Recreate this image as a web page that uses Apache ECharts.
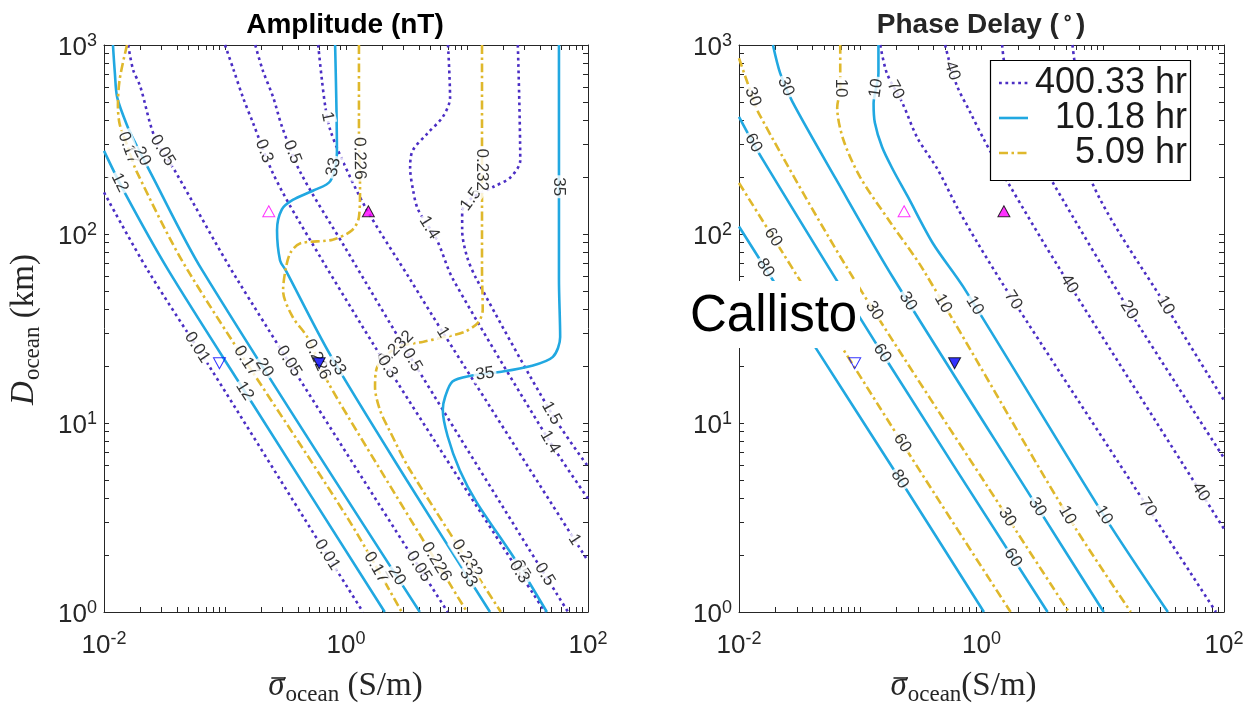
<!DOCTYPE html>
<html>
<head>
<meta charset="utf-8">
<script src="https://cdn.jsdelivr.net/npm/echarts@6/dist/echarts.min.js"></script>
<style>
  html, body { margin: 0; padding: 0; background: #fff; }
  #chart { width: 1257px; height: 706px; }
</style>
</head>
<body>
<div id="chart"></div>
<script>
// ---------------- data ----------------
const sigmaRange = [0.01, 100];          // ocean conductivity, S/m
const depthRange = [1, 1000];            // ocean thickness, km
const sigmaLabelTicks = [0.01, 1, 100];
const depthLabelTicks = [1, 10, 100, 1000];
const periods = ['400.33 hr', '10.18 hr', '5.09 hr'];

// Contour paths, points are [log10(sigma), log10(D)]
// Amplitude (nT), 400.33 hr
const amp400_001 = [[-2.0, 2.22], [-1.64, 1.81], [-1.12, 1.29], [-0.34, 0.49], [0.14, 0]];
const amp400_005 = [[-1.80, 3.0], [-1.76, 2.87], [-1.70, 2.78], [-1.58, 2.51], [-1.41, 2.33], [-0.90, 1.76], [0.84, 0]];
const amp400_03 = [[-1.0, 3.0], [-0.93, 2.87], [-0.85, 2.72], [-0.77, 2.59], [-0.61, 2.33], [-0.40, 2.08], [0.34, 1.30], [1.645, 0]];
const amp400_05 = [[-0.75, 3.0], [-0.69, 2.87], [-0.60, 2.72], [-0.53, 2.57], [-0.38, 2.33], [0.0, 1.92], [0.55, 1.33], [1.835, 0]];
const amp400_1 = [[-0.23, 3.0], [-0.20, 2.82], [-0.17, 2.67], [-0.13, 2.55], [-0.03, 2.39], [0.17, 2.13], [0.53, 1.76], [0.80, 1.48], [2.0, 0.27]];
const amp400_14 = [[0.843, 3.0], [0.86, 2.72], [0.80, 2.62], [0.67, 2.53], [0.55, 2.44], [0.53, 2.35], [0.555, 2.23], [0.595, 2.13], [0.75, 1.97], [0.885, 1.76], [1.686, 0.90], [2.0, 0.60]];
const amp400_15 = [[1.42, 3.0], [1.44, 2.39], [1.36, 2.30], [1.22, 2.25], [1.04, 2.19], [0.96, 2.12], [0.96, 2.02], [1.0, 1.88], [1.08, 1.76], [1.70, 1.05], [2.0, 0.77]];
// Amplitude (nT), 10.18 hr
const amp10_12 = [[-2.0, 2.44], [-1.83, 2.22], [-1.47, 1.81], [-0.78, 1.11], [0.32, 0]];
const amp10_20 = [[-1.926, 3.0], [-1.91, 2.85], [-1.89, 2.72], [-1.80, 2.56], [-1.74, 2.48], [-1.62, 2.33], [-1.19, 1.81], [0.61, 0]];
const amp10_33 = [[-0.09, 3.0], [-0.075, 2.43], [-0.13, 2.28], [-0.27, 2.23], [-0.44, 2.18], [-0.53, 2.13], [-0.57, 2.02], [-0.545, 1.86], [-0.50, 1.81], [-0.13, 1.36], [0.5, 0.70], [1.19, 0]];
const amp10_35 = [[1.76, 3.0], [1.76, 2.38], [1.76, 1.76], [1.77, 1.455], [1.71, 1.35], [1.52, 1.30], [1.27, 1.27], [1.03, 1.25], [0.88, 1.22], [0.82, 1.14], [0.80, 1.07], [0.84, 0.93], [0.94, 0.75], [1.08, 0.58], [1.40, 0.275], [1.66, 0]];
// Amplitude (nT), 5.09 hr
const amp5_017 = [[-1.81, 3.0], [-1.87, 2.82], [-1.885, 2.68], [-1.87, 2.58], [-1.80, 2.455], [-1.73, 2.33], [-1.31, 1.81], [0.02, 0.49], [0.46, 0]];
const amp5_0226 = [[0.107, 3.0], [0.107, 2.55], [0.116, 2.24], [0.107, 2.09], [0.05, 2.02], [-0.11, 1.97], [-0.38, 1.95], [-0.46, 1.90], [-0.50, 1.81], [-0.52, 1.70], [-0.44, 1.56], [-0.32, 1.455], [-0.16, 1.23], [0.03, 1.02], [1.0, 0]];
const amp5_0232 = [[1.124, 3.0], [1.124, 2.5], [1.124, 1.81], [1.13, 1.60], [1.09, 1.53], [0.97, 1.48], [0.78, 1.45], [0.64, 1.43], [0.42, 1.40], [0.26, 1.30], [0.24, 1.19], [0.28, 1.07], [0.36, 0.96], [0.53, 0.75], [1.28, 0]];

// Phase delay (deg), 400.33 hr
const phs400_70 = [[-0.835, 3.0], [-0.78, 2.85], [-0.65, 2.69], [-0.53, 2.51], [-0.36, 2.34], [-0.20, 2.14], [-0.03, 1.95], [0.26, 1.65], [1.934, 0]];
const phs400_40 = [[-0.30, 3.0], [-0.26, 2.9], [-0.20, 2.78], [-0.09, 2.64], [0.02, 2.50], [0.22, 2.27], [0.65, 1.81], [2.0, 0.44]];
const phs400_20 = [[0.17, 3.0], [0.19, 2.9], [0.26, 2.75], [0.40, 2.5], [0.59, 2.27], [1.215, 1.60], [2.0, 0.815]];
const phs400_10 = [[0.75, 3.0], [0.77, 2.9], [0.82, 2.7], [0.90, 2.29], [1.52, 1.62], [2.0, 1.12]];
// Phase delay (deg), 10.18 hr
const phs10_80 = [[-2.0, 2.04], [-1.37, 1.40], [-0.74, 0.77], [0.02, 0]];
const phs10_60 = [[-2.0, 2.62], [-1.81, 2.40], [-0.82, 1.37], [0.545, 0]];
const phs10_30 = [[-1.72, 3.0], [-1.66, 2.85], [-1.56, 2.70], [-1.2, 2.29], [-0.73, 1.77], [0.46, 0.556], [1.008, 0]];
const phs10_10 = [[-0.85, 3.0], [-0.85, 2.85], [-0.89, 2.69], [-0.88, 2.59], [-0.82, 2.46], [-0.73, 2.34], [-0.61, 2.20], [-0.40, 1.95], [-0.15, 1.72], [1.01, 0.51], [1.537, 0]];
// Phase delay (deg), 5.09 hr
const phs5_60 = [[-2.0, 2.27], [-0.65, 0.89], [0.24, 0]];
const phs5_30 = [[-2.0, 2.93], [-1.93, 2.80], [-1.83, 2.63], [-1.06, 1.77], [0.215, 0.50], [0.72, 0]];
const phs5_10 = [[-1.165, 3.0], [-1.165, 2.77], [-1.19, 2.67], [-1.14, 2.50], [-1.0, 2.30], [-0.75, 2.06], [-0.48, 1.81], [0.71, 0.51], [1.231, 0]];

// Contour labels: [period index, level text, log10(sigma), log10(D)]
const ampLabels = [
  [2, '0.17', -1.80, 2.455], [1, '20', -1.72, 2.40], [1, '12', -1.89, 2.265],
  [0, '0.05', -1.51, 2.444], [0, '0.3', -0.71, 2.43], [0, '0.5', -0.46, 2.43],
  [0, '1', -0.16, 2.62], [1, '33', -0.08, 2.35], [2, '0.226', 0.107, 2.40],
  [0, '1.4', 0.68, 2.03], [0, '1.5', 1.04, 2.18], [2, '0.232', 1.124, 2.34],
  [1, '35', 1.76, 2.25], [0, '0.01', -1.23, 1.40], [2, '0.17', -0.835, 1.323],
  [1, '20', -0.68, 1.29], [1, '12', -0.85, 1.164], [0, '0.05', -0.48, 1.323],
  [2, '0.226', -0.25, 1.333], [1, '33', -0.09, 1.296], [2, '0.232', 0.42, 1.39],
  [0, '0.3', 0.34, 1.296], [0, '0.5', 0.545, 1.333], [0, '1', 0.80, 1.48],
  [1, '35', 1.15, 1.254], [0, '1.5', 1.70, 1.053], [0, '1.4', 1.686, 0.90],
  [0, '0.01', -0.157, 0.302], [2, '0.17', 0.256, 0.238], [1, '20', 0.405, 0.185],
  [0, '0.05', 0.595, 0.238], [2, '0.226', 0.744, 0.265], [2, '0.232', 0.983, 0.275],
  [1, '33', 1.008, 0.18], [1, '35', 1.42, 0.212], [0, '0.3', 1.455, 0.222],
  [0, '0.5', 1.66, 0.206], [0, '1', 1.884, 0.381]
];
const phsLabels = [
  [2, '30', -1.89, 2.725], [1, '30', -1.62, 2.778], [1, '60', -1.884, 2.481],
  [2, '60', -1.727, 1.979], [1, '80', -1.785, 1.82], [2, '10', -1.165, 2.772],
  [1, '10', -0.868, 2.772], [0, '70', -0.711, 2.762], [0, '40', -0.273, 2.857],
  [2, '30', -0.876, 1.598], [1, '30', -0.628, 1.635], [2, '10', -0.38, 1.608],
  [1, '10', -0.074, 1.614], [1, '60', -0.818, 1.37], [0, '70', 0.264, 1.651],
  [0, '40', 0.711, 1.73], [0, '20', 1.215, 1.598], [0, '10', 1.521, 1.624],
  [2, '60', -0.653, 0.894], [1, '80', -0.686, 0.698], [2, '30', 0.215, 0.503],
  [1, '30', 0.463, 0.556], [2, '10', 0.711, 0.513], [1, '10', 1.008, 0.513],
  [0, '70', 1.372, 0.556], [0, '40', 1.81, 0.635], [1, '60', 0.256, 0.286]
];

// Callisto ocean models: [sigma (S/m), D (km)]
const openUp = [[0.23, 132]];
const filledUp = [[1.53, 132]];
const openDown = [[0.09, 20.7]];
const filledDown = [[0.6, 20.7]];

// ---------------- chart ----------------
const plots = [
  {
    contours: [
      [0, '0.01', amp400_001], [0, '0.05', amp400_005], [0, '0.3', amp400_03], [0, '0.5', amp400_05],
      [0, '1', amp400_1], [0, '1.4', amp400_14], [0, '1.5', amp400_15],
      [1, '12', amp10_12], [1, '20', amp10_20], [1, '33', amp10_33], [1, '35', amp10_35],
      [2, '0.17', amp5_017], [2, '0.226', amp5_0226], [2, '0.232', amp5_0232]
    ],
    labels: ampLabels
  },
  {
    contours: [
      [0, '70', phs400_70], [0, '40', phs400_40], [0, '20', phs400_20], [0, '10', phs400_10],
      [1, '80', phs10_80], [1, '60', phs10_60], [1, '30', phs10_30], [1, '10', phs10_10],
      [2, '60', phs5_60], [2, '30', phs5_30], [2, '10', phs5_10]
    ],
    labels: phsLabels
  }
];

const lineStyles = [
  { color: '#4b2ec4', width: 2.6, type: [2.8, 3.6], cap: 'butt' },
  { color: '#21a8e1', width: 2.6, type: 'solid', cap: 'butt' },
  { color: '#dfb82c', width: 2.6, type: [9, 3.5, 2.5, 3.5], cap: 'butt' }
];

const FONT = '"Liberation Sans", Arial, Helvetica, sans-serif';
const INK = '#262626';

const toValue = p => [Math.pow(10, p[0]), Math.pow(10, p[1])];

function tickList(lo, hi) {
  const out = [];
  for (let e = Math.round(Math.log10(lo)); e < Math.round(Math.log10(hi)); e++) {
    for (let m = 1; m <= 9; m++) out.push(+(m * Math.pow(10, e)).toPrecision(3));
  }
  out.push(hi);
  return out;
}

const powRich = {
  b: { fontSize: 26, fontFamily: FONT, color: INK, lineHeight: 31 },
  s: { fontSize: 18, fontFamily: FONT, color: INK, lineHeight: 15, verticalAlign: 'top' }
};
const powLabel = v => '{b|10}{s|' + Math.round(Math.log10(v)) + '}';

function makeAxis(kind, gridIndex, position, withLabels) {
  const range = kind === 'x' ? sigmaRange : depthRange;
  return {
    type: 'log', logBase: 10, gridIndex, position,
    min: range[0], max: range[1],
    axisLine: { show: true, onZero: false, lineStyle: { color: INK, width: 1 } },
    axisTick: { show: true, inside: true, length: 5, customValues: tickList(range[0], range[1]),
                lineStyle: { color: INK, width: 1 } },
    minorTick: { show: false },
    splitLine: { show: false },
    axisLabel: withLabels ? {
      show: true,
      customValues: kind === 'x' ? sigmaLabelTicks : depthLabelTicks,
      formatter: powLabel, rich: powRich,
      margin: kind === 'x' ? 18 : 7,
      padding: kind === 'x' ? 0 : [6, 0, 0, 0]
    } : { show: false }
  };
}

const xAxes = [], yAxes = [];
[0, 1].forEach(g => {
  xAxes.push(makeAxis('x', g, 'bottom', true), makeAxis('x', g, 'top', false));
  yAxes.push(makeAxis('y', g, 'left', true), makeAxis('y', g, 'right', false));
});

const series = [];
const contourRef = {};
plots.forEach((plot, g) => {
  plot.contours.forEach(([period, level, pts]) => {
    contourRef[g + '|' + period + '|' + level] = { idx: series.length, pts };
    series.push({
      type: 'line', name: periods[period],
      xAxisIndex: 2 * g, yAxisIndex: 2 * g,
      data: pts.map(toValue),
      showSymbol: false, symbol: 'none', smooth: 0.3, silent: true,
      lineStyle: lineStyles[period], z: 2, animation: false
    });
  });
});

plots.forEach((plot, g) => {
  series.push({
    id: 'labels' + g, type: 'scatter', xAxisIndex: 2 * g, yAxisIndex: 2 * g,
    symbolSize: 0, silent: true, z: 4, animation: false,
    data: plot.labels.map(l => ({ name: l[1], value: toValue([l[2], l[3]]) })),
    label: {
      show: true, position: 'inside', formatter: '{b}',
      fontSize: 17, fontFamily: FONT, color: '#000',
      backgroundColor: '#fff', padding: [0, 2]
    }
  });
  const mk = (data, symbol, rot, fill, stroke) => ({
    type: 'scatter', xAxisIndex: 2 * g, yAxisIndex: 2 * g, data,
    symbol, symbolRotate: rot, symbolSize: [12, 11], silent: true, z: 6, animation: false,
    itemStyle: { color: fill, borderColor: stroke, borderWidth: 1 }
  });
  series.push(mk(openUp, 'triangle', 0, 'rgba(255,255,255,0)', '#ff00ff'));
  series.push(mk(filledUp, 'triangle', 0, '#ff00ff', '#000'));
  series.push(mk(openDown, 'triangle', 180, 'rgba(255,255,255,0)', '#0000ff'));
  series.push(mk(filledDown, 'triangle', 180, '#0000ff', '#000'));
});

// ---- text helpers ----
const measureCtx = document.createElement('canvas').getContext('2d');
function textWidth(text, font) { measureCtx.font = font; return measureCtx.measureText(text).width; }

const txt = (x, y, text, extra) => ({
  type: 'text', x, y, z: 100,
  style: Object.assign({ text, fill: INK, align: 'center', verticalAlign: 'middle',
                         textAlign: 'center', textVerticalAlign: 'middle' }, extra)
});

// Axis name like  X_ocean (unit), laid out piece by piece; optional bar over the symbol
function mathName(cx, cy, rotation, symbol, bar, unit) {
  const fSym = 'italic 33px "Liberation Serif"';
  const fSub = '23px "Liberation Serif"';
  const fUnit = '33px "Liberation Serif"';
  const w1 = textWidth(symbol, fSym), w2 = textWidth('ocean', fSub), w3 = textWidth(unit, fUnit);
  const x = -(w1 + w2 + w3) / 2;
  const piece = (t, f, dx, dy) => ({
    type: 'text', x: dx, y: dy,
    style: { text: t, font: f, fill: INK, align: 'left', textAlign: 'left',
             verticalAlign: 'middle', textVerticalAlign: 'middle' }
  });
  const children = [piece(symbol, fSym, x, 0)];
  if (bar) {
    children.push({ type: 'line', shape: { x1: x + 3, y1: -8, x2: x + w1 + 1, y2: -8 },
                    style: { stroke: INK, lineWidth: 1.6 } });
  }
  children.push(piece('ocean', fSub, x + w1 + 1, 9));
  children.push(piece(unit, fUnit, x + w1 + w2 + 1, 0));
  return { type: 'group', x: cx, y: cy, rotation, z: 100, children };
}

const graphics = [
  txt(345, 25, 'Amplitude (nT)', { font: 'bold 28px ' + FONT, fill: '#000' }),
  txt(981, 25, '{t|Phase Delay (}{d|\u2218}{t|)}', {
    rich: {
      t: { fontFamily: FONT, fontWeight: 'bold', fontSize: 28, lineHeight: 32, color: '#000' },
      d: { fontFamily: FONT, fontWeight: 'bold', fontSize: 18, lineHeight: 16, verticalAlign: 'top', color: '#000', padding: [0, 3] }
    }
  }),
  mathName(345, 686, 0, '\u03c3', true, ' (S/m)'),
  mathName(963, 686, 0, '\u03c3', true, '(S/m)'),
  mathName(24, 330, Math.PI / 2, 'D', false, ' (km)'),
  // label box
  { type: 'rect', z: 90, shape: { x: 688, y: 281, width: 172, height: 67 }, style: { fill: '#fff' } },
  { type: 'text', z: 91, x: 690, y: 317,
    style: { text: 'Callisto', font: '51px ' + FONT, fill: '#000', align: 'left', textAlign: 'left',
             verticalAlign: 'middle', textVerticalAlign: 'middle' } },
  // legend
  { type: 'rect', z: 95, shape: { x: 990.5, y: 60.5, width: 200, height: 120 },
    style: { fill: '#fff', stroke: '#000', lineWidth: 1.2 } }
];
periods.forEach((p, i) => {
  const y = 83 + 35 * i;
  const ls = lineStyles[i];
  graphics.push({ type: 'line', z: 96, shape: { x1: 999, y1: y, x2: 1028, y2: y },
    style: { stroke: ls.color, lineWidth: ls.width, lineDash: ls.type === 'solid' ? null : ls.type, lineCap: 'butt' } });
  graphics.push({ type: 'text', z: 96, x: 1187, y: y,
    style: { text: p, font: '36px ' + FONT, fill: '#1a1a1a', align: 'right', textAlign: 'right',
             verticalAlign: 'middle', textVerticalAlign: 'middle' } });
});

const chart = echarts.init(document.getElementById('chart'), null, { renderer: 'canvas' });
chart.setOption({
  animation: false,
  backgroundColor: '#fff',
  grid: [
    { left: 104, top: 45, width: 484, height: 567 },
    { left: 739, top: 45, width: 485, height: 567 }
  ],
  xAxis: xAxes,
  yAxis: yAxes,
  series,
  graphic: graphics
});

// Put each contour label on its line and turn it along the line direction
function placeLabels() {
  const updates = [];
  plots.forEach((plot, g) => {
    const data = plot.labels.map(([period, text, lx, ly]) => {
      const c = contourRef[g + '|' + period + '|' + text];
      const finder = { seriesIndex: c.idx };
      const P = chart.convertToPixel(finder, toValue([lx, ly]));
      let best = null;
      for (let i = 0; i < c.pts.length - 1; i++) {
        const A = chart.convertToPixel(finder, toValue(c.pts[i]));
        const B = chart.convertToPixel(finder, toValue(c.pts[i + 1]));
        const dx = B[0] - A[0], dy = B[1] - A[1];
        const L2 = dx * dx + dy * dy || 1;
        let t = ((P[0] - A[0]) * dx + (P[1] - A[1]) * dy) / L2;
        t = Math.max(0, Math.min(1, t));
        const Q = [A[0] + t * dx, A[1] + t * dy];
        const d = (Q[0] - P[0]) ** 2 + (Q[1] - P[1]) ** 2;
        if (!best || d < best.d) best = { d, Q, dx, dy };
      }
      let ang = -Math.atan2(best.dy, best.dx) * 180 / Math.PI;
      if (ang > 90) ang -= 180;
      if (ang < -90) ang += 180;
      return { name: text, value: chart.convertFromPixel(finder, best.Q), label: { rotate: ang } };
    });
    updates.push({ id: 'labels' + g, data });
  });
  chart.setOption({ series: updates });
}
placeLabels();
</script>
</body>
</html>
